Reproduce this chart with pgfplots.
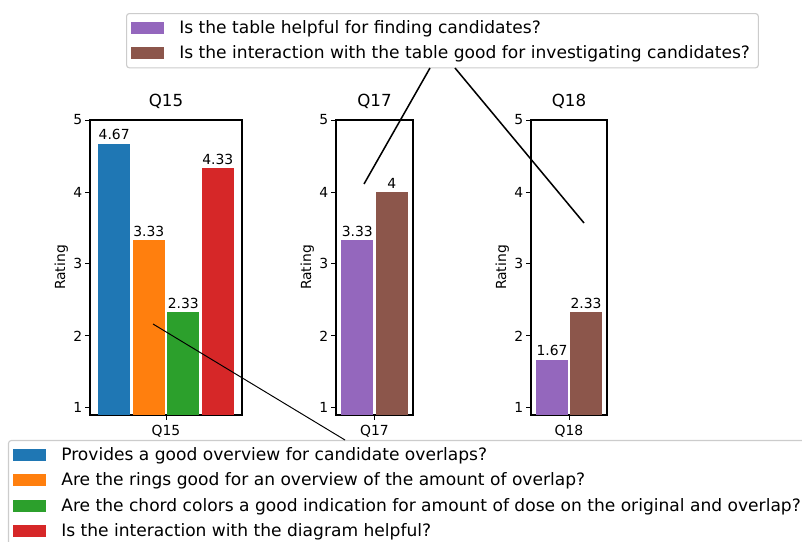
\documentclass[border=0pt]{standalone}
\usepackage{pgfplots}
\pgfplotsset{compat=1.18}
\usepackage{fontspec}
\setmainfont{DejaVu Sans}
\definecolor{tabblue}{HTML}{1F77B4}
\definecolor{taborange}{HTML}{FF7F0E}
\definecolor{tabgreen}{HTML}{2CA02C}
\definecolor{tabred}{HTML}{D62728}
\definecolor{tabpurple}{HTML}{9467BD}
\definecolor{tabbrown}{HTML}{8C564B}
\pgfplotsset{
  myax/.style={
    scale only axis, height=212.4pt, ymin=0.9, ymax=5, ytick={1,2,3,4,5},
    axis line style={line width=1.2pt},
    tick pos=left, tick align=outside, major tick length=3.5pt,
    tick style={black, line width=0.6pt},
    ylabel={Rating},
    ybar, bar width=0.183,
    xtick={0},
    nodes near coords,
    nodes near coords style={font=\fontsize{10}{12}\selectfont, /pgf/number format/fixed, /pgf/number format/precision=2, inner sep=2.5pt},
    ticklabel style={font=\fontsize{10}{12}\selectfont},
    yticklabel style={xshift=1.5pt},
    label style={font=\fontsize{10}{12}\selectfont},
    ylabel style={yshift=-3pt},
    title style={font=\fontsize{12}{14}\selectfont, yshift=-1pt},
    /pgf/number format/assume math mode=true,
    legend image code/.code={\fill[##1, sharp corners] (0pt,-4.3pt) rectangle (24pt,4.3pt);},
    legend cell align=left,
  },
  mylegend/.style={legend style={draw=black!20, line width=0.8pt, rounded corners=2pt, fill=white,
    font=\fontsize{12.3}{14.8}\selectfont, row sep=3.4pt, column sep=8pt, inner xsep=3pt, inner ysep=3pt,
    nodes={inner xsep=3pt}}},
}
\begin{document}
\begin{tikzpicture}
\useasboundingbox (0,0) rectangle (577.44pt,390.24pt);
\begin{axis}[myax, at={(64.8pt,91.44pt)}, anchor=south west, width=109.44pt,
  xmin=-0.44, xmax=0.44, xticklabels={Q15}, title={Q15}, mylegend,
  legend style={at={(-0.5395,-0.0847)}, anchor=north west}]
\addplot[fill=tabblue, draw=none, bar shift=0pt] coordinates {(-0.3,4.67)};
\addplot[fill=taborange, draw=none, bar shift=0pt] coordinates {(-0.1,3.33)};
\addplot[fill=tabgreen, draw=none, bar shift=0pt] coordinates {(0.1,2.33)};
\addplot[fill=tabred, draw=none, bar shift=0pt] coordinates {(0.3,4.33)};
\legend{Provides a good overview for candidate overlaps?,
Are the rings good for an overview of the amount of overlap?,
Are the chord colors a good indication for amount of dose on the original and overlap?,
Is the interaction with the diagram helpful?}
\end{axis}
\begin{axis}[myax, at={(241.92pt,91.44pt)}, anchor=south west, width=55.44pt,
  xmin=-0.223, xmax=0.223, xticklabels={Q17}, title={Q17}, mylegend,
  legend style={at={(-2.727,1.3627)}, anchor=north west}]
\addplot[fill=tabpurple, draw=none, bar shift=0pt] coordinates {(-0.1,3.33)};
\addplot[fill=tabbrown, draw=none, bar shift=0pt] coordinates {(0.1,4)};
\legend{Is the table helpful for finding candidates?,
Is the interaction with the table good for investigating candidates?}
\end{axis}
\begin{axis}[myax, at={(382.32pt,91.44pt)}, anchor=south west, width=54.72pt,
  xmin=-0.223, xmax=0.223, xticklabels={Q18}, title={Q18}]
\addplot[fill=tabpurple, draw=none, bar shift=0pt] coordinates {(-0.1,1.67)};
\addplot[fill=tabbrown, draw=none, bar shift=0pt] coordinates {(0.1,2.33)};
\end{axis}
\draw[black, line width=1.1pt] (309.6pt,341.28pt) -- (262.08pt,257.76pt);
\draw[black, line width=1.1pt] (327.6pt,341.28pt) -- (420.48pt,229.68pt);
\draw[black, line width=0.7pt] (110.16pt,156.96pt) -- (248.4pt,73.44pt);
\end{tikzpicture}
\end{document}
